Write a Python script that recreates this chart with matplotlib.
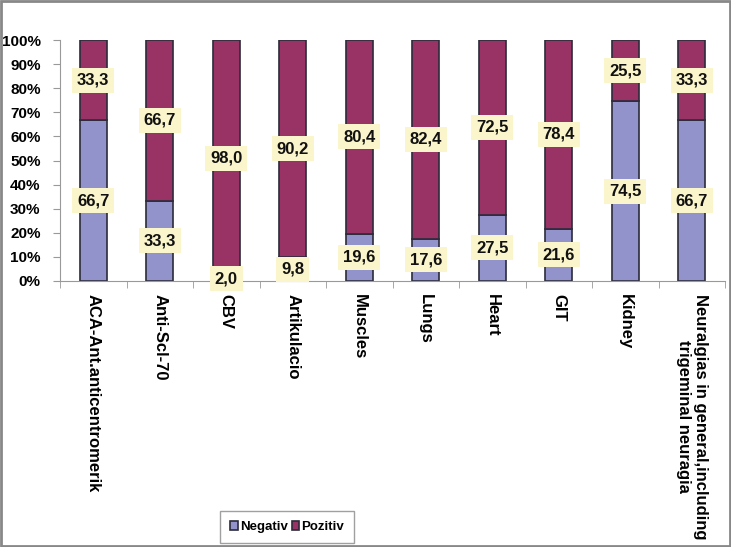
import numpy as np
import matplotlib

matplotlib.use("Agg")
import matplotlib.pyplot as plt
from matplotlib.patches import Rectangle

plt.rcParams['font.family'] = ['Liberation Sans', 'DejaVu Sans']

# data
categories = ["ACA-Ant.anticentromerik", "Anti-Scl-70", "CBV", "Artikulacio", "Muscles",
              "Lungs", "Heart", "GIT", "Kidney",
              "Neuralgias in general,including\ntrigeminal neuragia"]
negativ = [66.7, 33.3, 2.0, 9.8, 19.6, 17.6, 27.5, 21.6, 74.5, 66.7]
pozitiv = [33.3, 66.7, 98.0, 90.2, 80.4, 82.4, 72.5, 78.4, 25.5, 33.3]

negColor = "#9393CB"
posColor = "#993366"
boxColor = "#FAF5CB"

fig = plt.figure(figsize=(7.31, 5.47), dpi=100)
ax = fig.add_axes([60 / 731, 1 - 281 / 547, 665 / 731, 241 / 547])

x = np.arange(len(categories))
w = 0.41
ax.bar(x, negativ, w, color=negColor, edgecolor="#2b2b3b", linewidth=1.2, label="Negativ")
ax.bar(x, pozitiv, w, bottom=negativ, color=posColor, edgecolor="#2b2b3b", linewidth=1.2, label="Pozitiv")

# value labels centered in each segment
for i in range(len(categories)):
    for y, v in [(negativ[i] / 2, negativ[i]), (negativ[i] + pozitiv[i] / 2, pozitiv[i])]:
        ax.text(i, y, f"{v:.1f}".replace(".", ","), ha="center", va="center",
                fontsize=12, fontweight="bold", color="#111111", zorder=5,
                bbox=dict(boxstyle="square,pad=0.3", fc=boxColor, ec="none"))

ax.set_xlim(-0.5, len(categories) - 0.5)
ax.set_ylim(0, 100)
ax.set_yticks(np.arange(0, 101, 10))
ax.set_yticklabels([f"{t}%" for t in range(0, 101, 10)], fontsize=11, fontweight="bold")
ax.set_xticks(x)
ax.set_xticklabels(categories, rotation=-90, fontsize=12, fontweight="bold",
                   va="top", ha="center", multialignment="center")
ax.tick_params(axis="x", which="major", length=0, pad=9)
ax.set_xticks(np.arange(-0.5, len(categories), 1), minor=True)
ax.tick_params(axis="x", which="minor", length=5, color="#999999")
ax.tick_params(axis="y", length=5, color="#999999", pad=9)

for s in ["top", "right"]:
    ax.spines[s].set_visible(False)
for s in ["left", "bottom"]:
    ax.spines[s].set_color("#999999")

leg = fig.legend(loc="lower center", bbox_to_anchor=(287 / 731, 4 / 547), ncol=2,
                 prop={"size": 9.5, "weight": "bold"},
                 frameon=True, fancybox=False, edgecolor="#888888", borderaxespad=0,
                 handlelength=0.6, handleheight=0.6, handletextpad=0.15, columnspacing=0.3,
                 borderpad=0.75)

# outer frame
fig.patches.append(Rectangle((0.001, 0.001), 0.997, 0.997, transform=fig.transFigure,
                             fill=False, edgecolor="#888888", linewidth=2))

fig.savefig("out.png", dpi=100)
